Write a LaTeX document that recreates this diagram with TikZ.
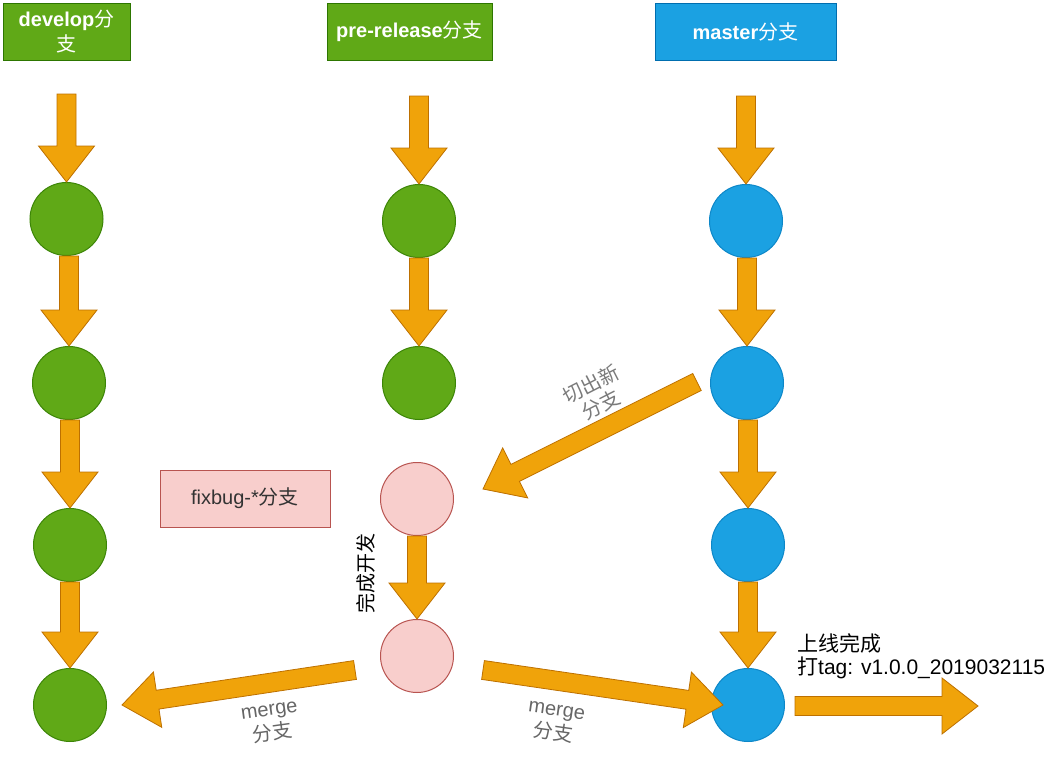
\documentclass[tikz,border=0pt]{standalone}
\usepackage{fontspec}
\setmainfont{Liberation Sans}
\newfontfamily\cjk{Noto Sans CJK SC}
\usetikzlibrary{calc}
\definecolor{gfill}{HTML}{60A917}
\definecolor{gdraw}{HTML}{2D7600}
\definecolor{bfill}{HTML}{1BA1E2}
\definecolor{bdraw}{HTML}{006EAF}
\definecolor{ofill}{HTML}{F0A30A}
\definecolor{odraw}{HTML}{BD7000}
\definecolor{pfill}{HTML}{F8CECC}
\definecolor{pdraw}{HTML}{B85450}
\definecolor{lblgray}{HTML}{666666}
\definecolor{lblgray2}{HTML}{7A7A7A}
\tikzset{
  hdr/.style={draw, line width=1pt, minimum height=57pt, inner sep=0pt, text=white, align=center,
    font=\fontsize{20}{25}\selectfont\bfseries},
  ghdr/.style={hdr, fill=gfill, draw=gdraw},
  bhdr/.style={hdr, fill=bfill, draw=bdraw},
  dot/.style={circle, minimum size=73pt, inner sep=0pt, line width=1pt},
  gdot/.style={dot, fill=gfill, draw=gdraw!70!gfill},
  bdot/.style={dot, fill=bfill, draw=bdraw!50!bfill},
  pdot/.style={dot, fill=pfill, draw=pdraw},
  barrow/.style={fill=ofill, draw=odraw, line width=0.8pt, line join=miter},
  lbl/.style={font=\fontsize{20}{24}\selectfont, align=center, inner sep=0pt},
}
\newcommand\blockarrow[2]{%
  \path coordinate (bah) at ($(#2)!36pt!(#1)$);
  \filldraw[barrow] ($(#1)!9.5pt!90:(#2)$) -- ($(bah)!9.5pt!90:(#2)$) -- ($(bah)!28pt!90:(#2)$) -- (#2)
    -- ($(bah)!28pt!-90:(#2)$) -- ($(bah)!9.5pt!-90:(#2)$) -- ($(#1)!9.5pt!-90:(#2)$) -- cycle;
}
\begin{document}
\begin{tikzpicture}[x=1pt, y=-1pt]
\useasboundingbox (0,0) rectangle (1058,769);
% headers
\node[ghdr, minimum width=127pt] (dh) at (66.5,31.5) {develop{\cjk\mdseries 分}\\{\cjk\mdseries 支}};
\node[ghdr, minimum width=165pt] (ph) at (409.5,31.5) {pre-release{\cjk\mdseries 分支}};
\node[bhdr, minimum width=181pt] (mh) at (745.5,31.5) {master{\cjk\mdseries 分支}};
\node[draw=pdraw, fill=pfill, line width=1pt, minimum width=170pt, minimum height=57pt, inner sep=0pt,
  text=black!80, font=\fontsize{20}{24}\selectfont] (fix) at (245,498.5) {fixbug-*{\cjk 分支}};
% circles
\node[gdot] (d1) at (66.5,219) {};
\node[gdot] (d2) at (69,383) {};
\node[gdot] (d3) at (70,545) {};
\node[gdot] (d4) at (70,705) {};
\node[gdot] (p1) at (419,221) {};
\node[gdot] (p2) at (419,383) {};
\node[pdot] (f1) at (417,499) {};
\node[pdot] (f2) at (417,656) {};
\node[bdot] (m1) at (746,221) {};
\node[bdot] (m2) at (747,383) {};
\node[bdot] (m3) at (748,545) {};
\node[bdot] (m4) at (748,705) {};
% free ends
\coordinate (dt) at (66.5,94);
\coordinate (pt) at (419,96);
\coordinate (mt) at (746,96);
\coordinate (cutS) at (697,382);
\coordinate (cutE) at (483,489);
\coordinate (mlS) at (355,670);
\coordinate (mlE) at (122,705);
\coordinate (mrS) at (483,670);
\coordinate (mrE) at (723,705);
\coordinate (relS) at (795,706);
\coordinate (relE) at (978,706);
% arrows
\blockarrow{dt}{d1.north}
\blockarrow{d2.north |- d1.south}{d2.north}
\blockarrow{d3.north |- d2.south}{d3.north}
\blockarrow{d3.south}{d4.north}
\blockarrow{pt}{p1.north}
\blockarrow{p1.south}{p2.north}
\blockarrow{f1.south}{f2.north}
\blockarrow{mt}{m1.north}
\blockarrow{m2.north |- m1.south}{m2.north}
\blockarrow{m3.north |- m2.south}{m3.north}
\blockarrow{m3.south}{m4.north}
\blockarrow{cutS}{cutE}
\blockarrow{mlS}{mlE}
\blockarrow{mrS}{mrE}
\blockarrow{relS}{relE}
% labels
\node[lbl, text=lblgray2, rotate=27, font=\fontsize{20}{23}\selectfont] (lcut) at (596,394) {\cjk 切出新\\\cjk 分支};
\node[lbl, text=black, rotate=90] (ldone) at (366,573) {\cjk 完成开发};
\node[lbl, text=lblgray, rotate=8] (lml) at (271,723) {merge\\{\cjk 分支}};
\node[lbl, text=lblgray, rotate=-8] (lmr) at (555,723) {merge\\{\cjk 分支}};
\node[lbl, text=black, align=left, anchor=west, font=\fontsize{21}{23}\selectfont] (lrel) at (797,656.5)
  {{\cjk 上线完成}\\{\cjk 打}tag: v1.0.0\_2019032115};
\end{tikzpicture}
\end{document}
